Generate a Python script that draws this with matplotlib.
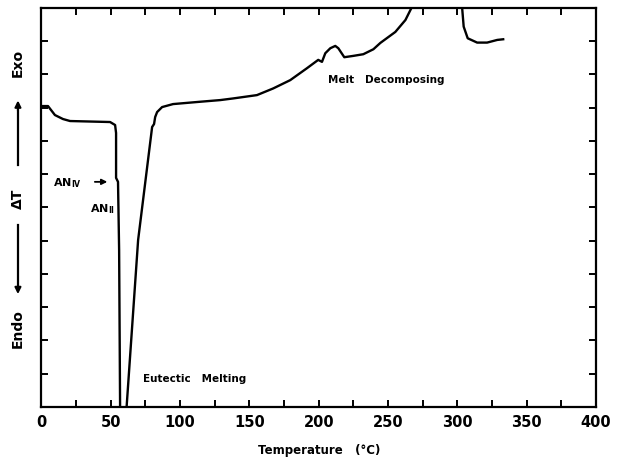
import numpy as np
import matplotlib
matplotlib.use("Agg")
import matplotlib.pyplot as plt

# DTA trace (temperature in degC, signal in tick units)
drop_t = [0, 4.7, 9.7, 15.5, 20.6, 49.5, 53.1, 53.8, 53.8, 55.2, 56.0, 56.7]
drop_s = [9.05, 9.05, 8.78, 8.66, 8.60, 8.57, 8.48, 8.24, 6.89, 6.77, 4.72, 0.0]

rise_t = [61.4, 69.7, 79.8, 81.2, 82.0, 83.4, 87.0, 94.9, 114.4, 128.9, 138.3, 155.4,
          167.1, 179.4, 191.5, 199.6, 202.3, 204.7, 208.3, 211.9, 214.1, 216.8,
          218.4, 224.9, 232.1, 239.4, 244.4, 255.2, 262.5, 266.8]
rise_s = [0.0, 5.02, 8.42, 8.51, 8.72, 8.87, 9.02, 9.11, 9.18, 9.23, 9.28, 9.38,
          9.58, 9.83, 10.19, 10.44, 10.38, 10.64, 10.79, 10.86, 10.79, 10.62,
          10.52, 10.56, 10.61, 10.76, 10.95, 11.28, 11.64, 12.0]

tail_t = [303.4, 304.5, 307.4, 314.2, 321.4, 328.7, 333.0]
tail_s = [12.0, 11.44, 11.09, 10.96, 10.96, 11.04, 11.06]

x_ticks = [0, 50, 100, 150, 200, 250, 300, 350, 400]

fig = plt.figure(figsize=(6.19, 4.72), dpi=100)
ax = fig.add_axes([0.067, 0.138, 0.896, 0.845])

ax.plot(drop_t, drop_s, color="black", lw=1.7)
ax.plot(rise_t, rise_s, color="black", lw=1.7)
ax.plot(tail_t, tail_s, color="black", lw=1.7)

ax.set_xlim(0, 400)
ax.set_ylim(0, 12)
ax.set_xticks(x_ticks)
ax.set_xticks(np.arange(0, 401, 25), minor=True)
ax.set_yticks(np.arange(0, 13, 1))
ax.set_yticklabels([])
ax.tick_params(which="both", direction="in", top=True, right=True,
               length=5, width=1.4)
ax.tick_params(axis="x", labelsize=10.5, pad=6)
for lab in ax.get_xticklabels():
    lab.set_fontweight("bold")
for s in ax.spines.values():
    s.set_linewidth(1.6)

ax.set_xlabel("Temperature   (°C)", fontsize=8.5, fontweight="bold", labelpad=10)

# annotations
ax.text(8.3, 6.72, r"$\mathbf{AN_{IV}}$", fontsize=8, ha="left", va="center")
ax.annotate("", xy=(49.5, 6.77), xytext=(36.5, 6.77),
            arrowprops=dict(arrowstyle="-|>", color="black", lw=1.3,
                            mutation_scale=8))
ax.text(35.0, 5.95, r"$\mathbf{AN_{II}}$", fontsize=8, ha="left", va="center")
ax.text(73.3, 0.84, "Eutectic   Melting", fontsize=7.5, fontweight="bold",
        ha="left", va="center")
ax.text(206.9, 9.83, "Melt   Decomposing", fontsize=7.5, fontweight="bold",
        ha="left", va="center")

# y axis label: Endo <- dT -> Exo
fig.text(0.029, 0.866, "Exo", rotation=90, fontsize=10, fontweight="bold",
         ha="center", va="center")
fig.text(0.029, 0.578, "ΔT", rotation=90, fontsize=10, fontweight="bold",
         ha="center", va="center")
fig.text(0.029, 0.303, "Endo", rotation=90, fontsize=10, fontweight="bold",
         ha="center", va="center")
fig.add_artist(plt.Line2D([0.029, 0.029], [0.650, 0.780], color="black", lw=1.6))
fig.add_artist(plt.Line2D([0.029, 0.029], [0.523, 0.385], color="black", lw=1.6))
ax.annotate("", xy=(0.029, 0.793), xytext=(0.029, 0.76), xycoords="figure fraction",
            textcoords="figure fraction",
            arrowprops=dict(arrowstyle="-|>", color="black", lw=1.5, mutation_scale=9))
ax.annotate("", xy=(0.029, 0.371), xytext=(0.029, 0.40), xycoords="figure fraction",
            textcoords="figure fraction",
            arrowprops=dict(arrowstyle="-|>", color="black", lw=1.5, mutation_scale=9))

fig.savefig("out.png", dpi=100)
